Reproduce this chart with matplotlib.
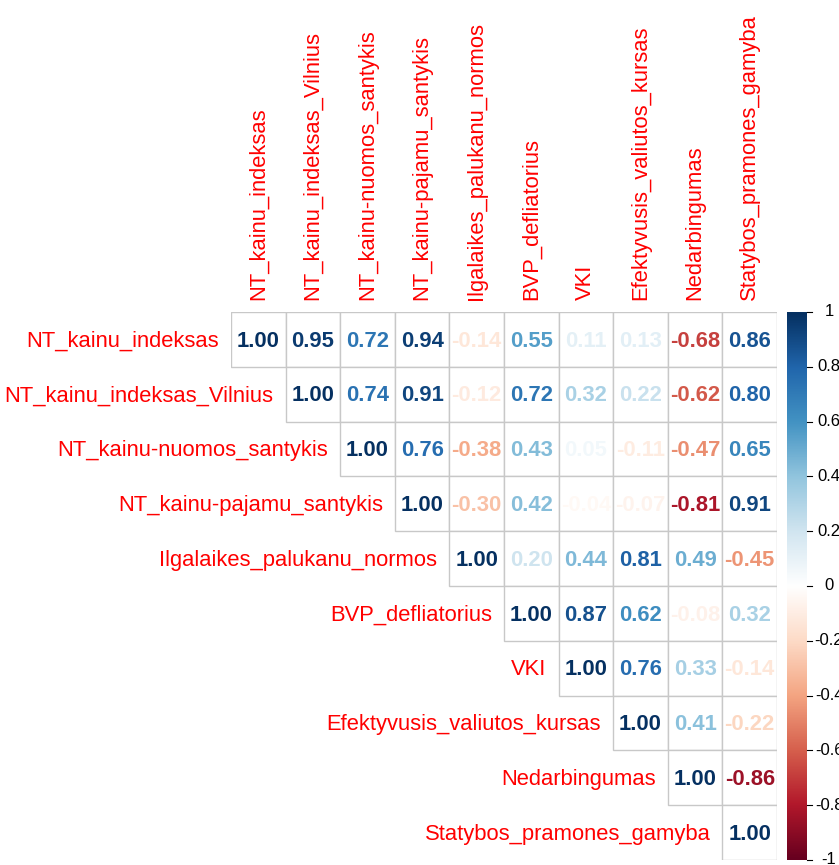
import numpy as np
import matplotlib
matplotlib.use("Agg")
import matplotlib.pyplot as plt
from matplotlib.colors import LinearSegmentedColormap, Normalize
from matplotlib.patches import Rectangle

plt.rcParams['font.family'] = ['Liberation Sans', 'DejaVu Sans']

variables = [
    "NT_kainu_indeksas",
    "NT_kainu_indeksas_Vilnius",
    "NT_kainu-nuomos_santykis",
    "NT_kainu-pajamu_santykis",
    "Ilgalaikes_palukanu_normos",
    "BVP_defliatorius",
    "VKI",
    "Efektyvusis_valiutos_kursas",
    "Nedarbingumas",
    "Statybos_pramones_gamyba",
]

# upper triangle of the correlation matrix, row by row starting at the diagonal
upper_rows = [
    [1.00, 0.95, 0.72, 0.94, -0.14, 0.55, 0.11, 0.13, -0.68, 0.86],
    [1.00, 0.74, 0.91, -0.12, 0.72, 0.32, 0.22, -0.62, 0.80],
    [1.00, 0.76, -0.38, 0.43, 0.05, -0.11, -0.47, 0.65],
    [1.00, -0.30, 0.42, -0.04, -0.07, -0.81, 0.91],
    [1.00, 0.20, 0.44, 0.81, 0.49, -0.45],
    [1.00, 0.87, 0.62, -0.08, 0.32],
    [1.00, 0.76, 0.33, -0.14],
    [1.00, 0.41, -0.22],
    [1.00, -0.86],
    [1.00],
]

cbar_ticks = [-1, -0.8, -0.6, -0.4, -0.2, 0, 0.2, 0.4, 0.6, 0.8, 1]

rdbu = ["#67001F", "#B2182B", "#D6604D", "#F4A582", "#FDDBC7", "#FFFFFF",
        "#D1E5F0", "#92C5DE", "#4393C3", "#2166AC", "#053061"]
cmap = LinearSegmentedColormap.from_list("corr", rdbu, N=200)
norm = Normalize(-1, 1)

W, H = 839, 865
fig = plt.figure(figsize=(W / 100, H / 100), dpi=100)

gx0, gx1, gy0, gy1 = 231, 777, 312, 860
ax = fig.add_axes([gx0 / W, 1 - gy1 / H, (gx1 - gx0) / W, (gy1 - gy0) / H])
n = len(variables)
ax.set_xlim(-0.5, n - 0.5)
ax.set_ylim(n - 0.5, -0.5)
ax.axis("off")

cell_px = (gx1 - gx0) / n
pad = 12 / cell_px

for i, row in enumerate(upper_rows):
    for k, v in enumerate(row):
        j = i + k
        ax.add_patch(Rectangle((j - 0.5, i - 0.5), 1, 1, facecolor="white",
                               edgecolor="#C8C8C8", linewidth=1.0, zorder=1))
        ax.text(j, i + 0.03, f"{v:.2f}", ha="center", va="center", fontsize=15.8,
                fontweight="bold", color=cmap(norm(v)), zorder=2)

for i, name in enumerate(variables):
    ax.text(i - 0.5 - pad, i + 0.03, name, ha="right", va="center", fontsize=15.8,
            color="#FF0000", clip_on=False)
    ax.text(i, -0.5 - pad, name, ha="center", va="bottom", rotation=90,
            fontsize=15.8, color="#FF0000", clip_on=False)

# colour legend
cx0, cx1 = 787, 807
cax = fig.add_axes([cx0 / W, 1 - gy1 / H, (cx1 - cx0) / W, (gy1 - gy0) / H])
grad = np.linspace(-1, 1, 200).reshape(-1, 1)
cax.imshow(grad, aspect="auto", cmap=cmap, norm=norm, origin="lower",
           extent=(0, 1, -1, 1))
cax.set_xlim(0, 1)
cax.set_ylim(-1, 1)
cax.set_xticks([])
cax.set_yticks([])
for s in cax.spines.values():
    s.set_visible(False)

tick_len = 5 / (cx1 - cx0)
label_x = (829 - cx0) / (cx1 - cx0)
for t in cbar_ticks:
    cax.plot([1, 1 + tick_len], [t, t], color="black", linewidth=0.8,
             clip_on=False)
    cax.text(label_x, t, f"{t:g}", ha="center", va="center", fontsize=12,
             color="black", clip_on=False)

fig.savefig("out.png", dpi=100, facecolor="white")
